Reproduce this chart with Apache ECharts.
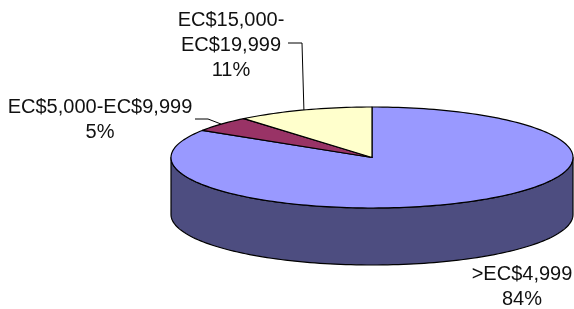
<!DOCTYPE html>
<html>
<head>
<meta charset="utf-8">
<script src="https://cdn.jsdelivr.net/npm/echarts/dist/echarts.min.js"></script>
<style>
  html, body { margin: 0; padding: 0; background: #fff; }
  #chart { width: 574px; height: 309px; }
</style>
</head>
<body>
<div id="chart"></div>
<script>
// data
const categories = ['>EC$4,999', 'EC$5,000-EC$9,999', 'EC$15,000-EC$19,999'];
const shares = [84, 5, 11];

// styles
const topColors = ['#9999FF', '#993366', '#FFFFCC'];
const sideColors = ['#4D4D80', '#5C1F3D', '#99997A'];
const labelWrap = [false, false, true];
// label block centre and leader stub (text side) for each slice
const labelAnchor = [[522, 287], [100, 120], [231, 45]];
const leaderStub = [null, [[195, 119], [208, 119]], [[288, 43], [302, 43]]];

// pie geometry (tilted ellipse + depth)
const geo = { cx: 372, cy: 157.5, rx: 201, ry: 50.5, depth: 57 };

function pt(deg, dy) {
    const r = deg * Math.PI / 180;
    return [geo.cx + geo.rx * Math.cos(r), geo.cy - geo.ry * Math.sin(r) + (dy || 0)];
}
function arc(a0, a1, dy) {
    const n = Math.max(2, Math.ceil(Math.abs(a1 - a0) / 1.5));
    const pts = [];
    for (let i = 0; i <= n; i++) pts.push(pt(a0 + (a1 - a0) * i / n, dy));
    return pts;
}

const total = shares.reduce((a, b) => a + b, 0);
const startAngles = [];
let acc = 0;
shares.forEach(v => { startAngles.push(90 - acc / total * 360); acc += v; });

var myChart = echarts.init(document.getElementById('chart'));
var option = {
    animation: false,
    series: [{
        type: 'custom',
        coordinateSystem: 'none',
        silent: true,
        data: shares,
        renderItem: function (params, api) {
            const i = params.dataIndex;
            const v = api.value(0);
            const a0 = startAngles[i];
            const a1 = a0 - v / total * 360;
            const children = [];
            // visible front wall
            for (let k = -1; k <= 1; k++) {
                const lo = Math.max(a1, -180 + 360 * k);
                const hi = Math.min(a0, 360 * k);
                if (hi > lo) {
                    const pts = arc(hi, lo, 0).concat(arc(lo, hi, geo.depth));
                    children.push({
                        type: 'polygon', z2: 1,
                        shape: { points: pts },
                        style: { fill: sideColors[i], stroke: '#000', lineWidth: 1.2, lineJoin: 'round' }
                    });
                }
            }
            // top face
            children.push({
                type: 'polygon', z2: 5,
                shape: { points: [[geo.cx, geo.cy]].concat(arc(a0, a1, 0)) },
                style: { fill: topColors[i], stroke: '#000', lineWidth: 1.2, lineJoin: 'round' }
            });
            // label
            const name = labelWrap[i] ? categories[i].replace('-', '-\n') : categories[i];
            const pct = Math.round(v / total * 100) + '%';
            children.push({
                type: 'text', z2: 10,
                style: {
                    text: name + '\n' + pct,
                    x: labelAnchor[i][0], y: labelAnchor[i][1],
                    align: 'center', verticalAlign: 'middle',
                    font: '20px "Liberation Sans", Arial, sans-serif',
                    lineHeight: 25,
                    fill: '#111'
                }
            });
            if (leaderStub[i]) {
                const mid = pt((a0 + a1) / 2, 0);
                children.push({
                    type: 'polyline', z2: 10,
                    shape: { points: leaderStub[i].concat([mid]) },
                    style: { stroke: '#000', lineWidth: 1, fill: null }
                });
            }
            return { type: 'group', children: children };
        }
    }]
};
myChart.setOption(option);
</script>
</body>
</html>
